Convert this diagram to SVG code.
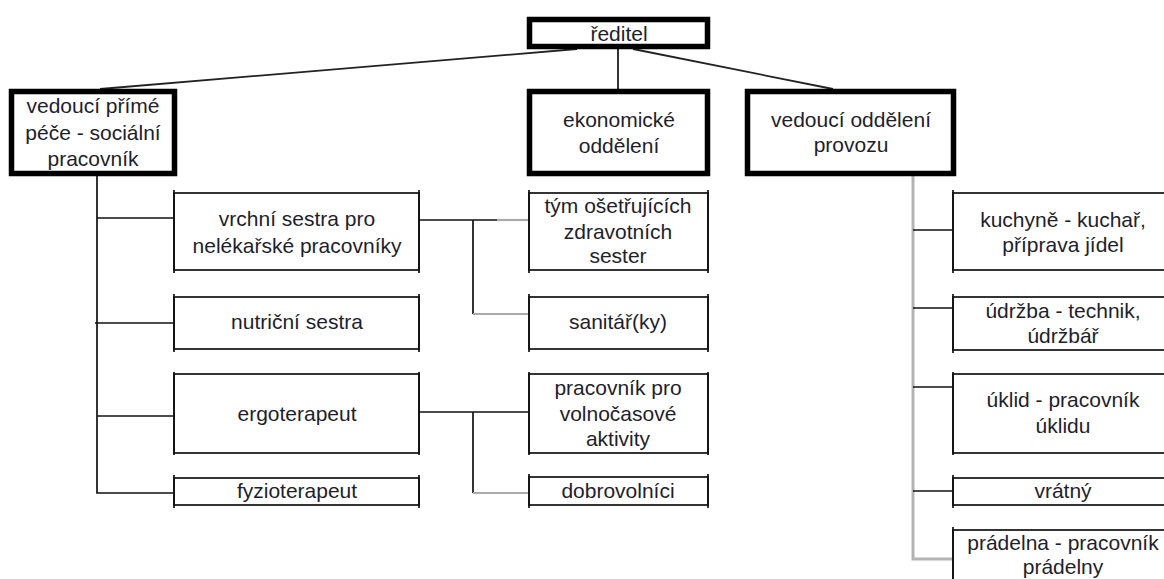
<svg xmlns="http://www.w3.org/2000/svg" width="1164" height="579" viewBox="0 0 1164 579">
<style>
text{font-family:"Liberation Sans",Arial,sans-serif;font-size:21px;fill:#1e1e2c;text-anchor:middle}
.thick{fill:#fff;stroke:#000;stroke-width:5.5}
.thin{fill:#fff;stroke:#111;stroke-width:1.7}
.tick{stroke:#111;stroke-width:1.7;fill:none}
.ln{stroke:#111;stroke-width:1.7;fill:none}
.dg{stroke:#222;stroke-width:1.8;fill:none}
.gr{stroke:#aaa;stroke-width:2.2;fill:none}
.grv{stroke:#b3b3b3;stroke-width:3;fill:none}
</style>
<rect width="1164" height="579" fill="#fff"/>
<g id="connectors">
<line class="dg" x1="577" y1="49" x2="100" y2="89"/>
<line class="dg" x1="633" y1="49" x2="833" y2="89"/>
<line class="ln" x1="618" y1="49" x2="618" y2="89"/>
<path class="ln" d="M97 176 V493 H174"/>
<line class="ln" x1="97" y1="218" x2="174" y2="218"/>
<line class="ln" x1="95" y1="323" x2="174" y2="323"/>
<line class="ln" x1="97" y1="416" x2="174" y2="416"/>
<line class="ln" x1="419" y1="220" x2="497" y2="220"/>
<line class="gr" x1="497" y1="220" x2="529" y2="220"/>
<line class="ln" x1="473" y1="220" x2="473" y2="314"/>
<line class="gr" x1="473" y1="314" x2="529" y2="314"/>
<line class="ln" x1="419" y1="412" x2="529" y2="412"/>
<line class="ln" x1="473" y1="412" x2="473" y2="493"/>
<line class="gr" x1="473" y1="493" x2="529" y2="493"/>
<path class="grv" d="M913 176 V559 H953"/>
<line class="ln" x1="913" y1="230" x2="953" y2="230"/>
<line class="ln" x1="913" y1="308" x2="953" y2="308"/>
<line class="ln" x1="913" y1="387" x2="953" y2="387"/>
<line class="ln" x1="913" y1="491" x2="953" y2="491"/>
</g>
<g id="reditel"><rect class="thick" x="529.5" y="19.5" width="178" height="27"/><text x="619" y="41">ředitel</text></g>
<g id="vedouci-prime-pece"><rect class="thick" x="11.5" y="91.5" width="163" height="82"/><text x="93" y="113">vedoucí přímé</text><text x="93" y="140">péče - sociální</text><text x="93" y="166">pracovník</text></g>
<g id="ekonomicke"><rect class="thick" x="529.5" y="91.5" width="178" height="82"/><text x="619" y="127">ekonomické</text><text x="619" y="153">oddělení</text></g>
<g id="vedouci-provozu"><rect class="thick" x="747.5" y="91.5" width="206" height="82"/><text x="851" y="127">vedoucí oddělení</text><text x="851" y="152">provozu</text></g>
<g id="vrchni-sestra"><rect class="thin" x="174" y="193" width="245" height="77"/><path class="tick" d="M174 190v83M419 190v83"/><text x="297" y="226">vrchní sestra pro</text><text x="297" y="253">nelékařské pracovníky</text></g>
<g id="nutricni-sestra"><rect class="thin" x="174" y="297" width="245" height="52"/><path class="tick" d="M174 294v58M419 294v58"/><text x="297" y="329">nutriční sestra</text></g>
<g id="ergoterapeut"><rect class="thin" x="174" y="374" width="245" height="79"/><path class="tick" d="M174 372v83M419 372v83"/><text x="297" y="421">ergoterapeut</text></g>
<g id="fyzioterapeut"><rect class="thin" x="174" y="478" width="245" height="27"/><path class="tick" d="M174 475v33M419 475v33"/><text x="297" y="498">fyzioterapeut</text></g>
<g id="tym-sester"><rect class="thin" x="529" y="193" width="179" height="77"/><path class="tick" d="M529 190v83M708 190v83"/><text x="618" y="213">tým ošetřujících</text><text x="618" y="239">zdravotních</text><text x="618" y="263">sester</text></g>
<g id="sanitar"><rect class="thin" x="529" y="297" width="179" height="52"/><path class="tick" d="M529 294v58M708 294v58"/><text x="618" y="329">sanitář(ky)</text></g>
<g id="volnocasove"><rect class="thin" x="529" y="374" width="179" height="79"/><path class="tick" d="M529 372v83M708 372v83"/><text x="618" y="395">pracovník pro</text><text x="618" y="421">volnočasové</text><text x="618" y="446">aktivity</text></g>
<g id="dobrovolnici"><rect class="thin" x="529" y="477" width="179" height="28"/><path class="tick" d="M529 474v34M708 474v34"/><text x="618" y="498">dobrovolníci</text></g>
<g id="kuchyne"><rect class="thin" x="953" y="193" width="220" height="77"/><path class="tick" d="M953 190v83"/><text x="1063" y="227">kuchyně - kuchař,</text><text x="1063" y="252">příprava jídel</text></g>
<g id="udrzba"><rect class="thin" x="953" y="297" width="220" height="53"/><path class="tick" d="M953 294v59"/><text x="1063" y="318">údržba - technik,</text><text x="1063" y="343">údržbář</text></g>
<g id="uklid"><rect class="thin" x="953" y="374" width="220" height="79"/><path class="tick" d="M953 372v83"/><text x="1063" y="407">úklid - pracovník</text><text x="1063" y="433">úklidu</text></g>
<g id="vratny"><rect class="thin" x="953" y="478" width="220" height="27"/><path class="tick" d="M953 475v33"/><text x="1063" y="498">vrátný</text></g>
<g id="pradelna"><rect class="thin" x="953" y="530" width="220" height="60"/><path class="tick" d="M953 527v60"/><text x="1063" y="550">prádelna - pracovník</text><text x="1063" y="574">prádelny</text></g>
</svg>
